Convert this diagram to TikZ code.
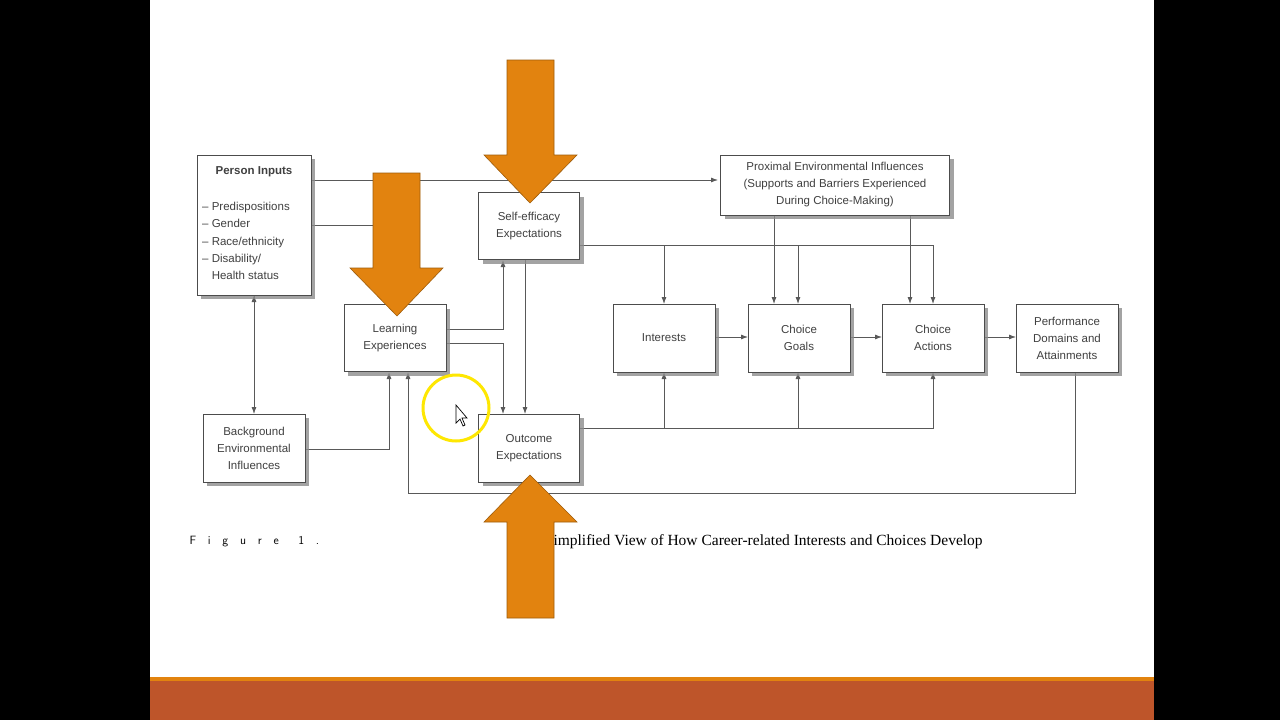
\documentclass[tikz,border=0pt]{standalone}
\usepackage{fontspec}
\setmainfont{Liberation Sans}
\newfontfamily\capserif{Liberation Serif}
\usetikzlibrary{arrows.meta,shadows}

\definecolor{bigorange}{HTML}{E2830F}
\definecolor{bandred}{HTML}{BE552A}

\tikzset{
  box/.style={draw=black!70, fill=white, line width=0.8pt, align=center,
    inner sep=0pt, drop shadow={shadow xshift=4pt, shadow yshift=-4pt, fill=black!45, opacity=0.8},
    font=\fontsize{11.5}{17}\selectfont, text=black!75},
  link/.style={draw=black!65, line width=0.8pt},
  arr/.style={link, -{Latex[length=7pt,width=5pt]}},
  bigarrow/.style={fill=bigorange, draw=bigorange!70!black, line width=0.6pt}
}

\begin{document}
\begin{tikzpicture}[x=1pt,y=-1pt]
  % slide
  \fill[black] (0,0) rectangle (1280,720);
  \fill[white] (150,0) rectangle (1154,678);
  \fill[bandred] (150,678) rectangle (1154,720);
  \fill[bigorange] (150,677) rectangle (1154,681);
  \useasboundingbox (0,0) rectangle (1280,720);

  % caption
  \node[anchor=west, font=\sffamily\fontsize{12}{14}\selectfont] (figlbl) at (186,542) {F\ \ \ i\ \ \ g\ \ \ u\ \ \ r\ \ \ e\ \ \ \ \ 1\ \ \ .};
  \node[anchor=west, font=\capserif\fontsize{15.5}{18}\selectfont] (figcap) at (550,542) {implified View of How Career-related Interests and Choices Develop};

  % connectors
  \coordinate (piA) at (311,180);
  \coordinate (piB) at (311,225);
  \draw[arr] (piA) -- (718,180);
  \draw[link] (piB) -- (400,225);
  \draw[arr] (254,253) -- (254,414);
  \draw[arr] (254,330) -- (254,295);
  \draw[arr] (305,449) -- (389,449) -- (389,372);
  \draw[arr] (1075,372) -- (1075,493) -- (408,493) -- (408,372);
  \draw[arr] (446,329) -- (503,329) -- (503,260);
  \draw[arr] (446,343) -- (503,343) -- (503,414);
  \draw[arr] (525,260) -- (525,414);
  \draw[arr] (580,245) -- (933,245) -- (933,304);
  \draw[arr] (664,245) -- (664,304);
  \draw[arr] (798,245) -- (798,304);
  \draw[arr] (774,215) -- (774,304);
  \draw[arr] (910,215) -- (910,304);
  \draw[arr] (580,428) -- (933,428) -- (933,372);
  \draw[arr] (664,428) -- (664,372);
  \draw[arr] (798,428) -- (798,372);
  \draw[arr] (715,337) -- (748,337);
  \draw[arr] (850,337) -- (882,337);
  \draw[arr] (984,337) -- (1016,337);

  % boxes
  \node[box, minimum width=114pt, minimum height=140pt] (pi) at (254,225) {};
  \node[font=\bfseries\fontsize{11.5}{14}\selectfont, text=black!75] (pititle) at (254,172) {Person Inputs};
  \node[anchor=north west, align=left, font=\fontsize{11.5}{17.3}\selectfont, text=black!75, inner sep=0pt] (pilist) at (202,202)
    {-- Predispositions\\-- Gender\\-- Race/ethnicity\\-- Disability/\\\phantom{-- }Health status};
  \node[box, minimum width=102pt, minimum height=67pt] (le) at (395,338) {Learning\\Experiences};
  \node[box, minimum width=102pt, minimum height=68pt] (bg) at (254,448) {Background\\Environmental\\Influences};
  \node[box, minimum width=101pt, minimum height=67pt] (se) at (529,226) {Self-efficacy\\Expectations};
  \node[box, minimum width=101pt, minimum height=68pt] (oe) at (529,448) {Outcome\\Expectations};
  \node[box, minimum width=229pt, minimum height=60pt] (pei) at (835,185) {Proximal Environmental Influences\\(Supports and Barriers Experienced\\During Choice-Making)};
  \node[box, minimum width=102pt, minimum height=68pt] (int) at (664,338) {Interests};
  \node[box, minimum width=102pt, minimum height=68pt] (cg) at (799,338) {Choice\\Goals};
  \node[box, minimum width=102pt, minimum height=68pt] (ca) at (933,338) {Choice\\Actions};
  \node[box, minimum width=102pt, minimum height=68pt] (pd) at (1067,338) {Performance\\Domains and\\Attainments};

  % big orange arrows
  \draw[bigarrow] (507,60) -- (554,60) -- (554,155) -- (577,155) -- (530,203) -- (484,155) -- (507,155) -- cycle;
  \draw[bigarrow] (373,173) -- (420,173) -- (420,268) -- (443,268) -- (397,316) -- (350,268) -- (373,268) -- cycle;
  \draw[bigarrow] (507,618) -- (554,618) -- (554,522) -- (577,522) -- (530,475) -- (484,522) -- (507,522) -- cycle;

  % cursor highlight
  \draw[yellow!90!orange, line width=3pt] (456,408) circle (33);
  \draw[black, fill=white, line width=0.7pt] (456,405) -- (456,423) -- (460,419) -- (463,426) -- (465,425) -- (462,418) -- (467,418) -- cycle;
\end{tikzpicture}
\end{document}
